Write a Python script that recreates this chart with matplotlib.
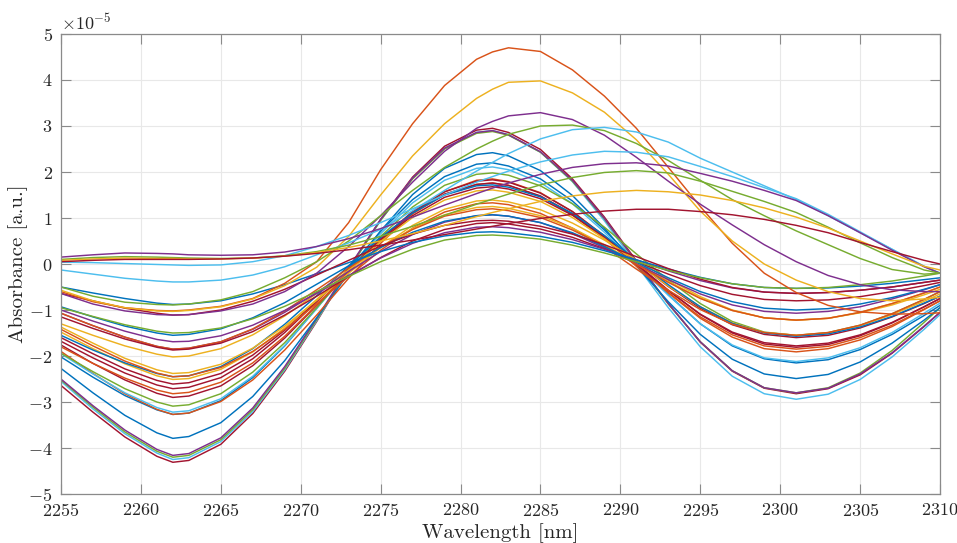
import numpy as np
import matplotlib
matplotlib.use("Agg")
import matplotlib.pyplot as plt

# ---------------- data (absorbance in units of 1e-5) ----------------
wavelength = [2255, 2257, 2259, 2261, 2262, 2263, 2265, 2267, 2269, 2271, 2273, 2275, 2277, 2279, 2281, 2282,
              2283, 2285, 2287, 2289, 2291, 2293, 2295, 2297, 2299, 2301, 2303, 2305, 2307, 2309, 2310]

BLUE, ORANGE, YELLOW, PURPLE, GREEN, CYAN, RED = ("#0072BD", "#D95319", "#EDB120", "#7E2F8E",
                                                   "#77AC30", "#4DBEEE", "#A2142F")

s01 = [-2.64, -3.22, -3.76, -4.18, -4.31, -4.27, -3.92, -3.25, -2.33, -1.25, -0.11, 0.97, 1.89, 2.56, 2.91, 2.95, 2.86, 2.49, 1.85, 1.02, 0.07, -0.86, -1.70, -2.33, -2.70, -2.82, -2.71, -2.41, -1.94, -1.36, -1.05]
s02 = [-2.55, -3.15, -3.69, -4.11, -4.25, -4.21, -3.86, -3.21, -2.30, -1.23, -0.12, 0.95, 1.86, 2.51, 2.86, 2.90, 2.81, 2.43, 1.79, 0.94, -0.02, -0.95, -1.80, -2.44, -2.82, -2.94, -2.83, -2.51, -2.02, -1.42, -1.10]
s03 = [-2.52, -3.11, -3.65, -4.07, -4.20, -4.16, -3.82, -3.17, -2.27, -1.21, -0.11, 0.95, 1.85, 2.50, 2.84, 2.88, 2.80, 2.43, 1.80, 0.98, 0.04, -0.87, -1.69, -2.32, -2.69, -2.80, -2.69, -2.37, -1.88, -1.27, -0.95]
s04 = [-2.50, -3.08, -3.61, -4.03, -4.16, -4.12, -3.78, -3.13, -2.23, -1.18, -0.08, 0.97, 1.87, 2.52, 2.86, 2.90, 2.81, 2.44, 1.82, 0.99, 0.05, -0.86, -1.69, -2.32, -2.69, -2.80, -2.70, -2.39, -1.93, -1.35, -1.05]
s05 = [-2.27, -2.80, -3.29, -3.67, -3.79, -3.75, -3.45, -2.88, -2.10, -1.17, -0.20, 0.72, 1.51, 2.08, 2.38, 2.42, 2.35, 2.03, 1.49, 0.78, -0.04, -0.82, -1.53, -2.07, -2.39, -2.49, -2.40, -2.13, -1.72, -1.22, -0.95]
s06 = [-2.02, -2.46, -2.86, -3.17, -3.27, -3.24, -2.97, -2.47, -1.78, -0.96, -0.11, 0.71, 1.40, 1.90, 2.17, 2.20, 2.13, 1.85, 1.37, 0.74, 0.03, -0.67, -1.30, -1.78, -2.06, -2.15, -2.08, -1.86, -1.53, -1.12, -0.90]
s07 = [-1.90, -2.38, -2.82, -3.16, -3.27, -3.24, -2.99, -2.52, -1.87, -1.11, -0.31, 0.45, 1.10, 1.57, 1.82, 1.85, 1.79, 1.55, 1.14, 0.59, -0.03, -0.63, -1.18, -1.59, -1.84, -1.91, -1.84, -1.65, -1.36, -0.99, -0.80]
s08 = [-1.95, -2.39, -2.80, -3.12, -3.22, -3.19, -2.93, -2.44, -1.77, -0.97, -0.14, 0.66, 1.33, 1.82, 2.08, 2.11, 2.05, 1.77, 1.31, 0.69, 0.00, -0.68, -1.30, -1.76, -2.04, -2.12, -2.04, -1.82, -1.49, -1.07, -0.85]
s09 = [-1.94, -2.34, -2.71, -3.00, -3.09, -3.06, -2.82, -2.35, -1.71, -0.95, -0.16, 0.60, 1.24, 1.71, 1.95, 1.98, 1.93, 1.70, 1.31, 0.80, 0.22, -0.35, -0.86, -1.25, -1.48, -1.55, -1.49, -1.33, -1.08, -0.77, -0.60]
s10 = [-1.76, -2.16, -2.52, -2.81, -2.90, -2.87, -2.65, -2.21, -1.61, -0.90, -0.17, 0.54, 1.14, 1.57, 1.80, 1.83, 1.78, 1.54, 1.14, 0.61, 0.01, -0.57, -1.10, -1.50, -1.74, -1.81, -1.75, -1.56, -1.28, -0.93, -0.75]
s11 = [-1.80, -2.16, -2.48, -2.74, -2.82, -2.79, -2.57, -2.15, -1.57, -0.89, -0.17, 0.51, 1.09, 1.51, 1.73, 1.76, 1.71, 1.47, 1.07, 0.55, -0.05, -0.62, -1.15, -1.54, -1.78, -1.85, -1.79, -1.60, -1.33, -0.98, -0.80]
s12 = [-1.68, -2.04, -2.37, -2.63, -2.71, -2.68, -2.47, -2.06, -1.49, -0.82, -0.13, 0.54, 1.11, 1.52, 1.73, 1.76, 1.71, 1.48, 1.09, 0.57, -0.01, -0.58, -1.09, -1.48, -1.71, -1.78, -1.72, -1.54, -1.27, -0.93, -0.75]
s13 = [-1.60, -1.95, -2.28, -2.53, -2.61, -2.58, -2.38, -1.98, -1.44, -0.80, -0.13, 0.51, 1.05, 1.45, 1.65, 1.68, 1.63, 1.42, 1.06, 0.58, 0.04, -0.49, -0.96, -1.32, -1.53, -1.60, -1.55, -1.39, -1.15, -0.86, -0.70]
s14 = [-1.48, -1.84, -2.17, -2.43, -2.51, -2.49, -2.29, -1.91, -1.39, -0.77, -0.13, 0.49, 1.01, 1.39, 1.59, 1.61, 1.56, 1.36, 1.01, 0.55, 0.03, -0.48, -0.93, -1.28, -1.49, -1.55, -1.50, -1.34, -1.10, -0.81, -0.65]
s15 = [-1.55, -1.87, -2.15, -2.38, -2.45, -2.43, -2.23, -1.84, -1.31, -0.69, -0.04, 0.58, 1.11, 1.50, 1.70, 1.72, 1.67, 1.46, 1.10, 0.62, 0.08, -0.45, -0.93, -1.29, -1.50, -1.57, -1.52, -1.37, -1.14, -0.85, -0.70]
s16 = [-1.42, -1.78, -2.11, -2.37, -2.45, -2.43, -2.25, -1.90, -1.42, -0.86, -0.27, 0.30, 0.78, 1.13, 1.31, 1.33, 1.29, 1.10, 0.78, 0.37, -0.11, -0.57, -0.99, -1.31, -1.49, -1.55, -1.49, -1.33, -1.08, -0.77, -0.60]
s17 = [-1.37, -1.72, -2.05, -2.30, -2.38, -2.36, -2.18, -1.83, -1.35, -0.79, -0.20, 0.36, 0.84, 1.19, 1.37, 1.39, 1.35, 1.18, 0.89, 0.52, 0.09, -0.33, -0.71, -1.00, -1.17, -1.22, -1.18, -1.06, -0.89, -0.67, -0.55]
s18 = [-1.30, -1.55, -1.78, -1.96, -2.02, -2.00, -1.84, -1.54, -1.13, -0.64, -0.13, 0.36, 0.77, 1.07, 1.23, 1.25, 1.21, 1.05, 0.78, 0.42, 0.02, -0.38, -0.74, -1.01, -1.17, -1.22, -1.18, -1.05, -0.86, -0.63, -0.50]
s19 = [-1.07, -1.34, -1.59, -1.79, -1.85, -1.83, -1.69, -1.42, -1.05, -0.62, -0.16, 0.27, 0.64, 0.91, 1.05, 1.07, 1.04, 0.90, 0.66, 0.35, 0.00, -0.34, -0.65, -0.89, -1.03, -1.07, -1.03, -0.93, -0.76, -0.56, -0.45]
s20 = [-1.07, -1.34, -1.59, -1.79, -1.85, -1.83, -1.69, -1.41, -1.02, -0.56, -0.09, 0.37, 0.75, 1.04, 1.18, 1.20, 1.16, 1.01, 0.74, 0.39, -0.01, -0.40, -0.75, -1.01, -1.17, -1.22, -1.18, -1.05, -0.86, -0.63, -0.50]
s21 = [-1.15, -1.40, -1.63, -1.81, -1.87, -1.85, -1.72, -1.47, -1.11, -0.70, -0.27, 0.14, 0.50, 0.75, 0.88, 0.90, 0.87, 0.76, 0.58, 0.33, 0.05, -0.22, -0.47, -0.66, -0.77, -0.80, -0.78, -0.71, -0.60, -0.47, -0.40]
s22 = [-1.00, -1.24, -1.46, -1.64, -1.69, -1.68, -1.56, -1.33, -1.01, -0.64, -0.25, 0.13, 0.45, 0.68, 0.80, 0.81, 0.79, 0.69, 0.53, 0.32, 0.09, -0.15, -0.36, -0.52, -0.61, -0.64, -0.62, -0.57, -0.50, -0.40, -0.35]
s23 = [-0.93, -1.15, -1.35, -1.50, -1.55, -1.53, -1.41, -1.17, -0.84, -0.44, -0.04, 0.36, 0.69, 0.93, 1.05, 1.07, 1.04, 0.90, 0.68, 0.38, 0.04, -0.30, -0.60, -0.82, -0.96, -1.00, -0.97, -0.87, -0.73, -0.55, -0.45]
s24 = [-0.50, -0.63, -0.75, -0.85, -0.88, -0.87, -0.80, -0.65, -0.45, -0.21, 0.03, 0.27, 0.47, 0.61, 0.69, 0.70, 0.68, 0.60, 0.47, 0.29, 0.09, -0.11, -0.29, -0.43, -0.51, -0.53, -0.52, -0.48, -0.42, -0.34, -0.30]
s25 = [-0.64, -0.80, -0.96, -1.07, -1.11, -1.10, -1.00, -0.81, -0.55, -0.24, 0.08, 0.39, 0.65, 0.84, 0.94, 0.95, 0.93, 0.82, 0.65, 0.42, 0.16, -0.10, -0.33, -0.51, -0.61, -0.64, -0.62, -0.57, -0.50, -0.40, -0.35]
s26 = [-0.95, -1.14, -1.32, -1.46, -1.50, -1.49, -1.39, -1.19, -0.92, -0.60, -0.27, 0.05, 0.32, 0.52, 0.62, 0.63, 0.61, 0.54, 0.41, 0.24, 0.05, -0.14, -0.30, -0.43, -0.51, -0.53, -0.51, -0.45, -0.37, -0.26, -0.20]
# curves with larger, later peaks
s27 = [-0.60, -0.82, -0.95, -1.01, -1.02, -1.00, -0.92, -0.75, -0.42, 0.05, 0.90, 2.05, 3.05, 3.88, 4.45, 4.61, 4.70, 4.62, 4.22, 3.65, 2.95, 2.10, 1.25, 0.45, -0.20, -0.62, -0.90, -1.04, -1.09, -1.08, -1.06]
s28 = [-0.57, -0.80, -0.95, -1.02, -1.03, -1.01, -0.93, -0.76, -0.47, -0.07, 0.60, 1.50, 2.35, 3.05, 3.60, 3.80, 3.95, 3.98, 3.72, 3.30, 2.70, 1.95, 1.15, 0.50, 0.00, -0.35, -0.60, -0.75, -0.80, -0.76, -0.72]
s29 = [-0.64, -0.87, -1.02, -1.10, -1.11, -1.10, -1.02, -0.87, -0.60, -0.20, 0.38, 1.05, 1.78, 2.45, 2.95, 3.10, 3.22, 3.29, 3.14, 2.80, 2.32, 1.80, 1.30, 0.85, 0.42, 0.05, -0.25, -0.45, -0.56, -0.60, -0.60]
s30 = [-0.50, -0.70, -0.83, -0.88, -0.89, -0.87, -0.78, -0.60, -0.30, 0.05, 0.50, 1.05, 1.60, 2.10, 2.50, 2.67, 2.82, 3.00, 3.02, 2.90, 2.62, 2.25, 1.82, 1.40, 1.05, 0.72, 0.42, 0.12, -0.12, -0.22, -0.20]
s31 = [-0.13, -0.22, -0.31, -0.37, -0.39, -0.39, -0.35, -0.24, -0.06, 0.20, 0.46, 0.75, 1.16, 1.60, 2.02, 2.21, 2.40, 2.72, 2.92, 2.97, 2.87, 2.65, 2.30, 2.00, 1.70, 1.40, 1.05, 0.68, 0.32, -0.05, -0.20]
s32 = [0.04, 0.03, 0.01, -0.01, -0.02, -0.03, -0.02, 0.05, 0.18, 0.38, 0.62, 0.90, 1.20, 1.50, 1.78, 1.90, 2.02, 2.22, 2.37, 2.45, 2.43, 2.33, 2.12, 1.90, 1.66, 1.42, 1.08, 0.70, 0.32, -0.05, -0.20]
s33 = [0.15, 0.20, 0.24, 0.23, 0.22, 0.20, 0.19, 0.20, 0.26, 0.38, 0.55, 0.77, 1.02, 1.28, 1.53, 1.65, 1.76, 1.95, 2.10, 2.18, 2.20, 2.13, 1.97, 1.80, 1.60, 1.38, 1.05, 0.68, 0.30, -0.06, -0.20]
s34 = [0.10, 0.14, 0.16, 0.15, 0.14, 0.13, 0.12, 0.13, 0.18, 0.27, 0.41, 0.60, 0.82, 1.06, 1.30, 1.41, 1.52, 1.72, 1.88, 1.99, 2.03, 1.98, 1.80, 1.58, 1.36, 1.12, 0.80, 0.46, 0.14, -0.13, -0.20]
s35 = [0.08, 0.11, 0.13, 0.12, 0.12, 0.11, 0.11, 0.13, 0.17, 0.25, 0.36, 0.50, 0.66, 0.84, 1.03, 1.12, 1.20, 1.36, 1.48, 1.56, 1.60, 1.57, 1.50, 1.38, 1.22, 1.02, 0.78, 0.50, 0.22, -0.05, -0.13]
s36 = [0.05, 0.08, 0.10, 0.10, 0.10, 0.10, 0.11, 0.13, 0.17, 0.23, 0.31, 0.41, 0.52, 0.64, 0.76, 0.82, 0.88, 0.99, 1.08, 1.15, 1.19, 1.19, 1.14, 1.07, 0.97, 0.84, 0.68, 0.47, 0.27, 0.08, 0.00]

series = [s01, s02, s03, s04, s05, s06, s07, s08, s09, s10, s11, s12, s13, s14, s15, s16, s17, s18,
          s19, s20, s21, s22, s23, s24, s25, s26, s27, s28, s29, s30, s31, s32, s33, s34, s35, s36]
colors = [RED, CYAN, GREEN, PURPLE, BLUE, BLUE, ORANGE, CYAN, GREEN, RED, ORANGE, RED, RED, YELLOW,
          BLUE, ORANGE, YELLOW, YELLOW, PURPLE, ORANGE, RED, PURPLE, BLUE, BLUE, RED, GREEN,
          ORANGE, YELLOW, PURPLE, GREEN, CYAN, CYAN, PURPLE, GREEN, YELLOW, RED]
scale = 1e-5

x_ticks = [2255, 2260, 2265, 2270, 2275, 2280, 2285, 2290, 2295, 2300, 2305, 2310]
y_ticks = [-5, -4, -3, -2, -1, 0, 1, 2, 3, 4, 5]

# ---------------- style ----------------
plt.rcParams['font.family'] = ['cmr10', 'DejaVu Serif']
plt.rcParams['mathtext.fontset'] = 'cm'
plt.rcParams['axes.formatter.use_mathtext'] = True
plt.rcParams['axes.unicode_minus'] = True

fig = plt.figure(figsize=(9.57, 5.43), dpi=100)
ax = fig.add_axes([0.0637, 0.0902, 0.9186, 0.8472])

for s, c in zip(series, colors):
    ax.plot(wavelength, np.array(s) * scale, color=c, lw=1.05)

ax.set_xlim(2255, 2310)
ax.set_ylim(-5 * scale, 5 * scale)
ax.set_xticks(x_ticks)
ax.set_yticks([v * scale for v in y_ticks])
ax.ticklabel_format(axis='y', style='sci', scilimits=(0, 0), useMathText=True)
ax.yaxis.get_offset_text().set_fontsize(13)
ax.yaxis.get_offset_text().set_color('#262626')

ax.grid(True, color='#e8e8e8', lw=0.8)
ax.set_axisbelow(True)
for sp in ax.spines.values():
    sp.set_color('#8a8a8a')
    sp.set_linewidth(0.9)
ax.tick_params(direction='in', top=True, right=True, length=7, width=0.8,
               color='#8a8a8a', labelsize=13, pad=6, labelcolor='#262626')

ax.set_xlabel('Wavelength [nm]', fontsize=15, color='#262626', labelpad=3)
ax.set_ylabel('Absorbance [a.u.]', fontsize=15, color='#262626', labelpad=0)

fig.savefig('out.png', dpi=100)
